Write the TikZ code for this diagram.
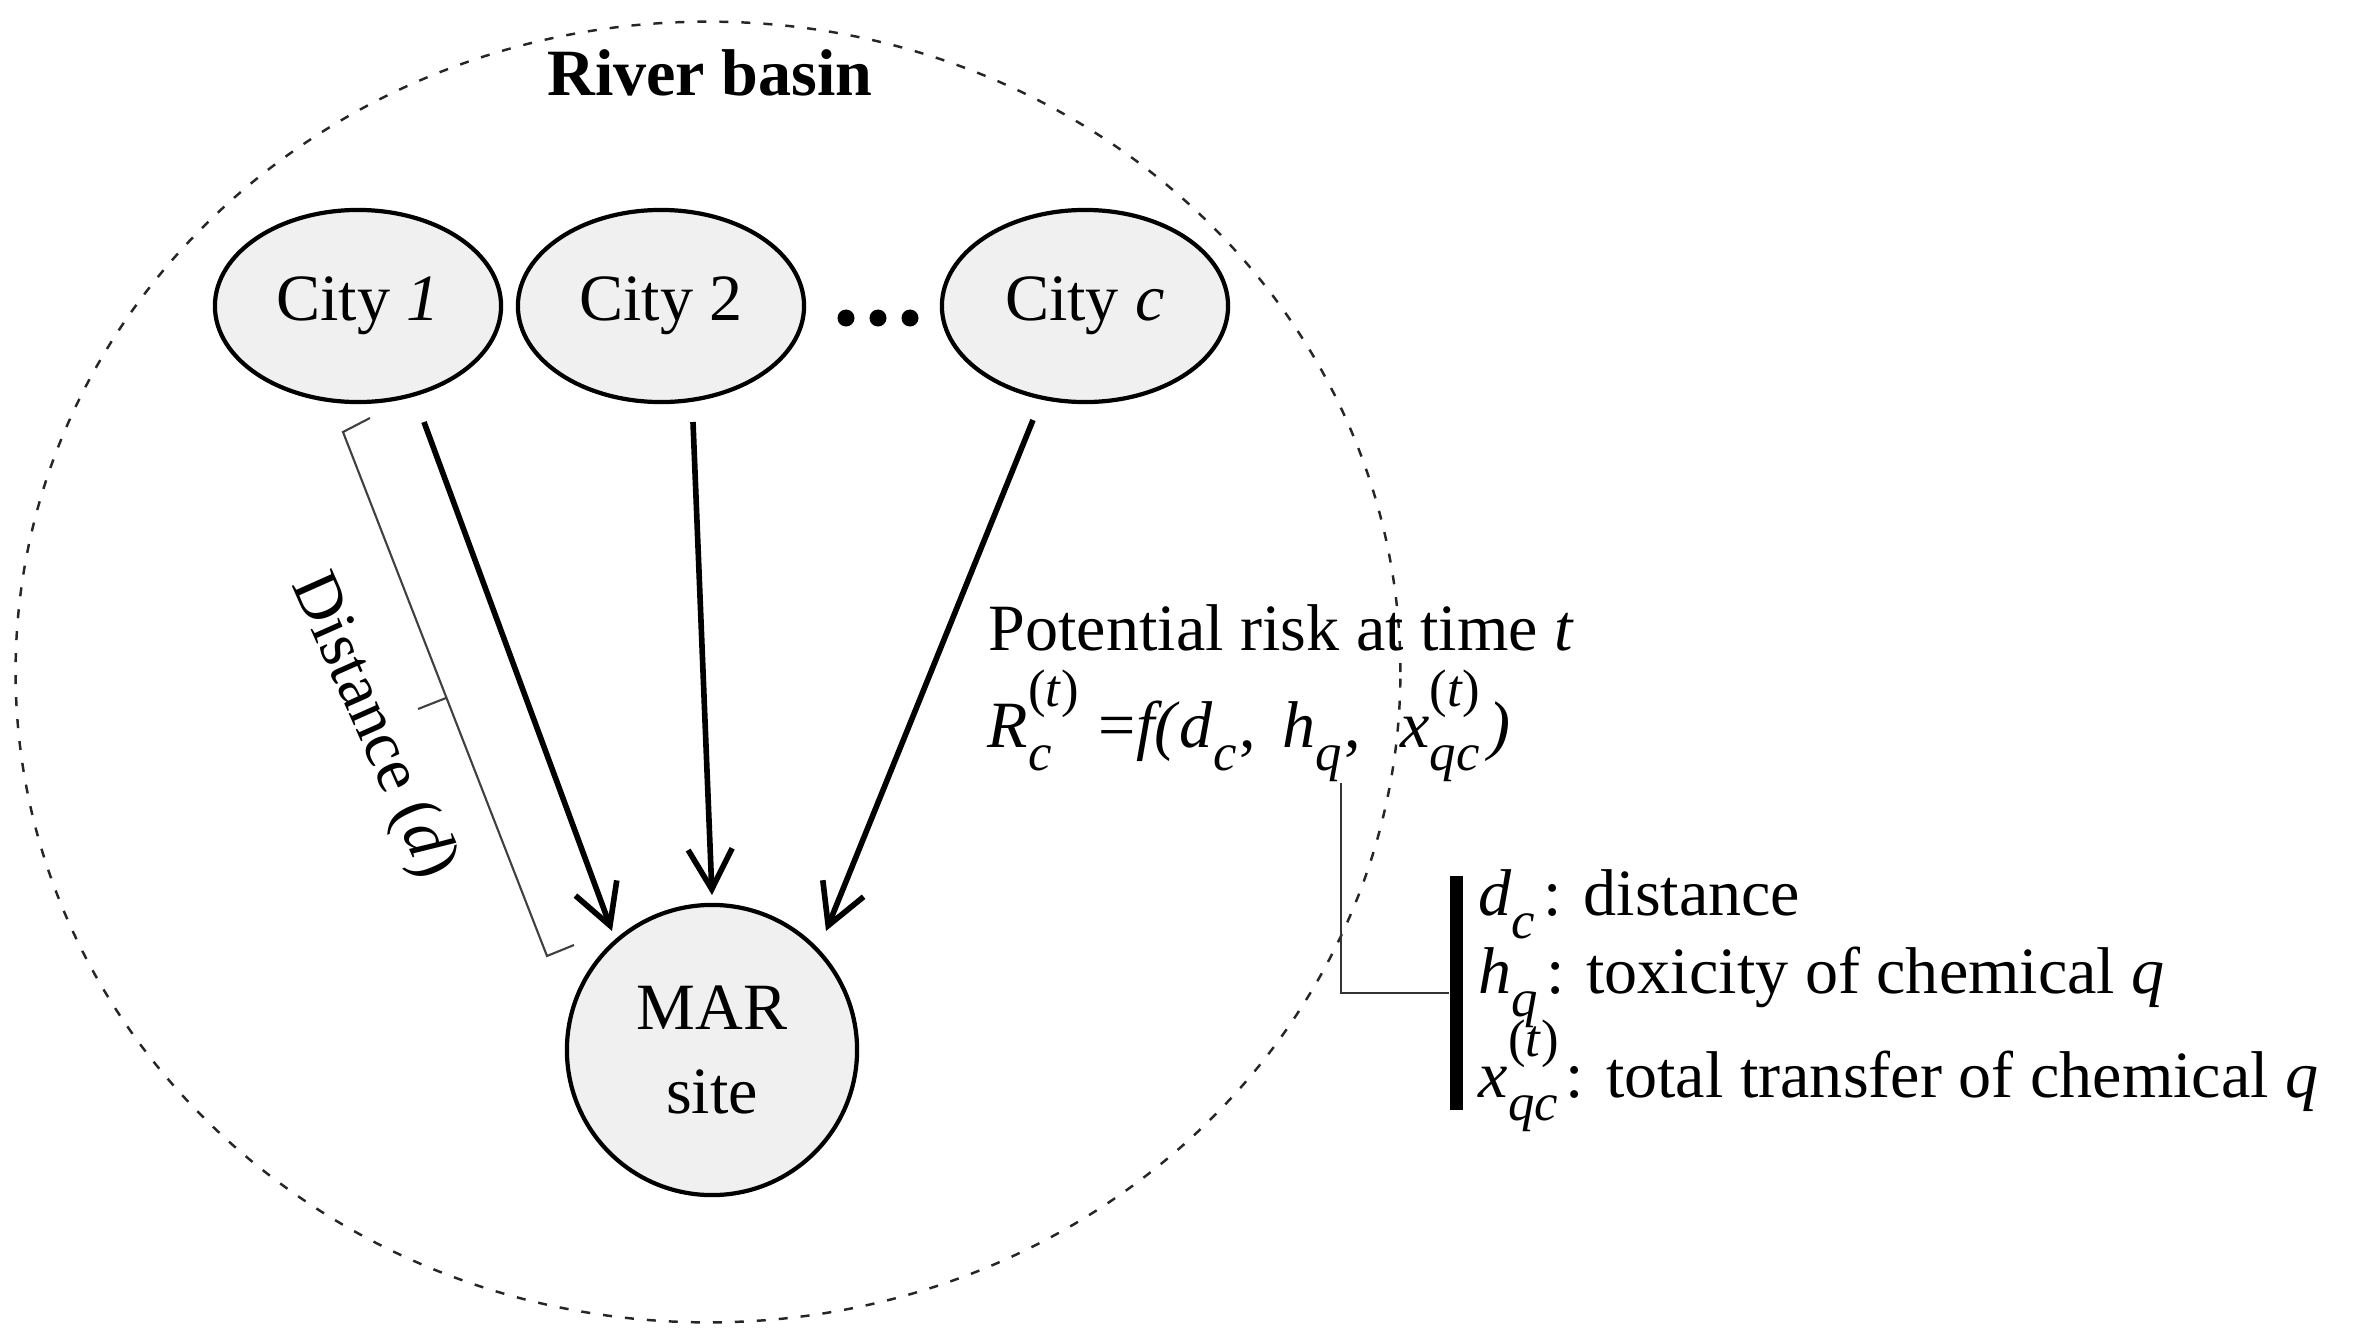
\documentclass[tikz,border=0pt]{standalone}
\usepackage{fontspec}
\setmainfont{Liberation Serif}
\usetikzlibrary{shapes.geometric,arrows.meta}
\newcommand{\scrsz}{\fontsize{15}{15}\selectfont}
\newcommand{\ssx}[3]{\textit{#1}\setbox0=\hbox{\scrsz #3}\setbox2=\hbox{\scrsz\textit{#2}\kern0.05em}\ifdim\wd0>\wd2 \wd2=\wd0\fi\rlap{\raisebox{0.62em}{\box0}}\raisebox{-0.36em}{\box2}}
\begin{document}
\begin{tikzpicture}[x=0.01cm,y=-0.01cm,
  font=\fontsize{18.8}{22.5}\selectfont,
  basinstyle/.style={ellipse, draw=black!85, line width=0.7pt, dash pattern=on 0.09cm off 0.13cm,
    minimum width=13.84cm, minimum height=13cm, inner sep=0pt},
  city/.style={ellipse, draw, line width=1.2pt, fill=black!6, minimum width=2.86cm,
    minimum height=1.92cm, inner sep=0pt},
  site/.style={circle, draw, line width=1.2pt, fill=black!6, minimum size=2.9cm,
    align=center, inner sep=0pt, font=\fontsize{18.8}{24}\selectfont},
  flow/.style={line width=1.6pt, -{Straight Barb[length=0.4cm,width=0.44cm]}},
  bracketline/.style={draw=black!75, line width=0.6pt},
  linkline/.style={draw=black!80, line width=0.8pt},
  lbl/.style={anchor=base west, inner sep=0pt}
]
\useasboundingbox (0,0) rectangle (2362,1342);

% river basin
\node[basinstyle] (rb) at (708,672) {};
\node[anchor=base, inner sep=0pt, font=\fontsize{18.8}{22.5}\selectfont\bfseries] (rbl) at (710,95) {River basin};

% cities
\node[city] (c1) at (358,306) {City \textit{1}};
\node[city] (c2) at (661,306) {City 2};
\node[city] (cc) at (1085,306) {City \textit{c}};
\fill (846,318) circle (0.085cm);
\fill (878,318) circle (0.085cm);
\fill (910,318) circle (0.085cm);

% MAR site
\node[site] (mar) at (712,1050) {MAR\\site};

% flows
\coordinate (s1) at (424,422); \coordinate (e1) at (612,931);
\coordinate (s2) at (693,422); \coordinate (e2) at (712,895);
\coordinate (s3) at (1033,420); \coordinate (e3) at (826,931);
\draw[flow] (s1) -- (e1);
\draw[flow] (s2) -- (e2);
\draw[flow] (s3) -- (e3);

% distance bracket
\coordinate (bt) at (370,418); \coordinate (bc1) at (343,432);
\coordinate (bc2) at (547,956); \coordinate (bb) at (574,945);
\coordinate (bm) at (446,698); \coordinate (bmt) at (418,709);
\draw[bracketline] (bt) -- (bc1) -- (bc2) -- (bb);
\draw[bracketline] (bm) -- (bmt);
\node[rotate=-66, inner sep=0pt] (dist) at (372,727) {Distance (\textit{d})};

% risk text
\node[lbl] (risk) at (988,650) {Potential risk at time \textit{t}};
\node[lbl] (form) at (987,747) {\ssx{R}{c}{(\textit{t})}\kern0.3em=\textit{f(}\ssx{d}{c}{},\kern0.15em{} \ssx{h}{q}{},\kern0.35em{} \ssx{x}{qc}{(\textit{t})}\kern0.1em\textit{)}};

% legend
\node[fill=black, minimum width=0.13cm, minimum height=2.33cm, inner sep=0pt] (bar) at (1456,993) {};
\coordinate (hq) at (1341,783);
\draw[linkline] (hq) |- (bar.west);
\node[lbl] (l1) at (1478,915) {\ssx{d}{c}{}\kern0.08em: distance};
\node[lbl] (l2) at (1478,993) {\ssx{h}{q}{}\kern0.08em: toxicity of chemical \textit{q}};
\node[lbl] (l3) at (1478,1097) {\ssx{x}{qc}{(\textit{t})}\kern0.08em: total transfer of chemical \textit{q}};
\end{tikzpicture}
\end{document}
